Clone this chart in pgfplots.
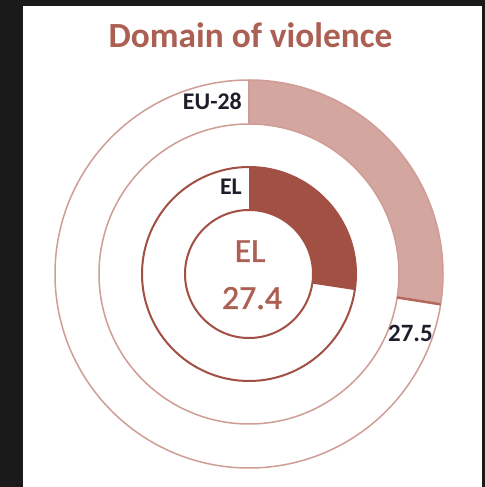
\documentclass[border=0pt]{standalone}
\usepackage{pgfplots}
\pgfplotsset{compat=1.18}
\usepackage{pgfplotstable}
\usepackage{fontspec}
\setmainfont{Carlito}
\newfontfamily\medfont[FakeBold=1.2]{Carlito}
\definecolor{bgdark}{HTML}{1A1A1A}
\definecolor{titlec}{HTML}{AC5F53}
\definecolor{darkring}{HTML}{A24F44}
\definecolor{lightfill}{HTML}{D3A6A0}
\definecolor{lightline}{HTML}{CF9D96}
\definecolor{edgec}{HTML}{B5675D}
\definecolor{labc}{HTML}{1E1E2A}

% ring, value (%), inner radius, outer radius (px)
\pgfplotstableread{
ring value rin rout
EU-28 27.5 150 194
EL 27.4 64 107
}\rings

\pgfplotstablegetelem{0}{value}\of\rings \global\let\vEU\pgfplotsretval
\pgfplotstablegetelem{1}{value}\of\rings \global\let\vEL\pgfplotsretval
\pgfmathsetmacro{\aEU}{90-3.6*\vEU}
\pgfmathsetmacro{\aEL}{90-3.6*\vEL}

\begin{document}
\begin{tikzpicture}
\begin{axis}[
  scale only axis, width=485bp, height=487bp,
  xmin=0, xmax=485, ymin=0, ymax=487,
  hide axis, clip=false,
]
% background and panel
\fill[bgdark] (axis cs:0,0) rectangle (axis cs:485,487);
\fill[white] (axis cs:23,0) rectangle (axis cs:482,481);

\begin{scope}[shift={(axis cs:249,213)}]
  % outer ring (EU-28)
  \fill[lightfill] (90:194bp) arc[start angle=90, end angle=\aEU, radius=194bp]
     -- (\aEU:150bp) arc[start angle=\aEU, end angle=90, radius=150bp] -- cycle;
  \draw[lightline, line width=1.5bp] (0,0) circle[radius=194bp];
  \draw[lightline, line width=1.5bp] (0,0) circle[radius=150bp];
  \draw[lightline, line width=1.2bp] (90:150bp) -- (90:194bp);
  \draw[edgec, line width=2.5bp] (\aEU:150bp) -- (\aEU:194bp);
  % inner ring (EL)
  \fill[darkring] (90:107bp) arc[start angle=90, end angle=\aEL, radius=107bp]
     -- (\aEL:64bp) arc[start angle=\aEL, end angle=90, radius=64bp] -- cycle;
  \draw[darkring, line width=2bp] (0,0) circle[radius=107bp];
  \draw[darkring, line width=2bp] (0,0) circle[radius=64bp];
\end{scope}

% texts
\node[anchor=base, text=titlec, font=\fontsize{35.5}{35.5}\selectfont\bfseries, inner sep=0pt] at (axis cs:250.5,439) {Domain of violence};
\node[anchor=base east, text=labc, font=\fontsize{24}{24}\selectfont\bfseries, inner sep=0pt] at (axis cs:242,377) {EU-28};
\node[anchor=base east, text=labc, font=\fontsize{24}{24}\selectfont\bfseries, inner sep=0pt] at (axis cs:242,292) {EL};
\node[anchor=base west, text=labc, font=\fontsize{25}{25}\selectfont\bfseries, inner sep=0pt] at (axis cs:388,145) {\vEU};
\node[anchor=base, text=titlec, font=\fontsize{34}{34}\medfont, inner sep=0pt] at (axis cs:250,225) {EL};
\node[anchor=base, text=titlec, font=\fontsize{34}{34}\medfont, inner sep=0pt] at (axis cs:252,178) {\vEL};
\end{axis}
\end{tikzpicture}
\end{document}
